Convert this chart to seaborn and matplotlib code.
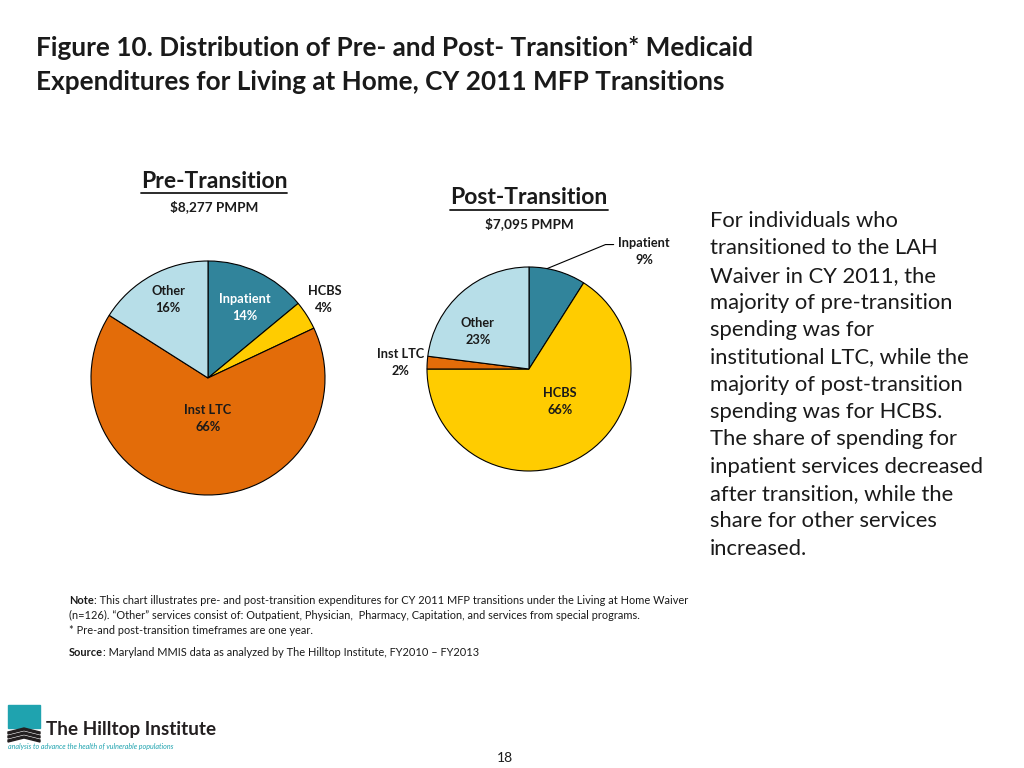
import numpy as np
import matplotlib
matplotlib.use('Agg')
import matplotlib.pyplot as plt
import seaborn as sns
from matplotlib.patches import Rectangle, Polygon
from matplotlib.lines import Line2D

# datos del grafico
categorias = ['Inpatient', 'HCBS', 'Inst LTC', 'Other']
pre_pct = [14, 4, 66, 16]
post_pct = [9, 66, 2, 23]
pre_titulo = 'Pre-Transition'
post_titulo = 'Post-Transition'
pre_total = '$8,277 PMPM'
post_total = '$7,095 PMPM'
colores = ['#31849B', '#FFCC00', '#E36C09', '#B7DEE8']

titulo = ['Figure 10. Distribution of Pre- and Post- Transition* Medicaid',
          'Expenditures for Living at Home, CY 2011 MFP Transitions']

texto_derecha = ['For individuals who', 'transitioned to the LAH', 'Waiver in CY 2011, the',
                 'majority of pre-transition', 'spending was for', 'institutional LTC, while the',
                 'majority of post-transition', 'spending was for HCBS.', 'The share of spending for',
                 'inpatient services decreased', 'after transition, while the',
                 'share for other services', 'increased.']

sns.set_theme(style='white')
plt.rcParams['font.family'] = ['Lato', 'DejaVu Sans']

W, H = 1024, 768
fig = plt.figure(figsize=(W / 100, H / 100), dpi=100)
fig.patch.set_facecolor('white')
ren = fig.canvas.get_renderer()


def fx(x):
    return x / W


def fy(y):
    return 1 - y / H


def caja(cx, cy, r):
    return [fx(cx - r), fy(cy + r), 2 * r / W, 2 * r / H]


def titulo_torta(cx, y, txt, sub, y_sub):
    t = fig.text(fx(cx), fy(y), txt, ha='center', va='center', fontsize=16.5,
                 fontweight='bold', color='#1a1a1a')
    bb = t.get_window_extent(ren)
    yl = bb.y0 - 1
    fig.add_artist(Line2D([bb.x0 / W, bb.x1 / W], [yl / H, yl / H], color='#1a1a1a', lw=1.3))
    fig.text(fx(cx), fy(y_sub), sub, ha='center', va='center', fontsize=9.8,
             fontweight='bold', color='#1a1a1a')


def dibujar_torta(cx, cy, r, valores, ubic, col_txt):
    ax = fig.add_axes(caja(cx, cy, r))
    wedges, _ = ax.pie(valores, colors=colores, startangle=90, counterclock=False,
                       wedgeprops=dict(edgecolor='black', linewidth=0.8))
    ax.set_xlim(-1, 1)
    ax.set_ylim(-1, 1)
    ax.axis('off')
    for w, v, cat, (ang, dist), c in zip(wedges, valores, categorias, ubic, col_txt):
        if ang is None:
            ang = (w.theta1 + w.theta2) / 2
        a = np.deg2rad(ang)
        ax.text(dist * np.cos(a), dist * np.sin(a), f'{cat}\n{v}%', ha='center', va='center',
                fontsize=9.2, fontweight='bold', color=c, linespacing=1.5)
    return ax, wedges


# titulo
for i, linea in enumerate(titulo):
    fig.text(fx(36), fy(48 + i * 34), linea, ha='left', va='center', fontsize=18.8,
             fontweight='bold', color='#1a1a1a')

# torta pre
titulo_torta(214, 181, pre_titulo, pre_total, 207)
dibujar_torta(208, 378, 117, pre_pct,
              [(62.5, 0.68), (34, 1.2), (-90, 0.35), (117, 0.75)],
              ['white', '#1a1a1a', '#1a1a1a', '#1a1a1a'])

# torta post
titulo_torta(529, 198, post_titulo, post_total, 224)
ax2, w2 = dibujar_torta(529, 369, 102, post_pct,
                        [(45.5, 1.61), (-46, 0.44), (177, 1.26), (144, 0.62)],
                        ['#1a1a1a'] * 4)
# linea guia inpatient
a = np.deg2rad((w2[0].theta1 + w2[0].theta2) / 2 + 6)
ax2.plot([np.cos(a), 0.75, 0.83], [np.sin(a), 1.22, 1.22], color='black', lw=0.8, clip_on=False)

# texto de la derecha
for i, linea in enumerate(texto_derecha):
    fig.text(fx(710), fy(221 + i * 27.3), linea, ha='left', va='center', fontsize=15.8,
             color='#1a1a1a')


# notas
def texto_mixto(x, y, negrita, resto, size=7.9):
    t = fig.text(fx(x), fy(y), negrita, ha='left', va='center', fontsize=size,
                 fontweight='bold', color='#1a1a1a')
    bb = t.get_window_extent(ren)
    fig.text(bb.x1 / W, fy(y), resto, ha='left', va='center', fontsize=size, color='#1a1a1a')


texto_mixto(69, 601, 'Note', ': This chart illustrates pre- and post-transition expenditures for '
            'CY 2011 MFP transitions under the Living at Home Waiver')
fig.text(fx(69), fy(615), '(n=126). \u201cOther\u201d services consist of: Outpatient, Physician,  '
         'Pharmacy, Capitation, and services from special programs.', ha='left', va='center',
         fontsize=7.9, color='#1a1a1a')
fig.text(fx(69), fy(631), '* Pre-and post-transition timeframes are one year.', ha='left',
         va='center', fontsize=7.9, color='#1a1a1a')
texto_mixto(69, 652, 'Source', ': Maryland MMIS data as analyzed by The Hilltop Institute, '
            'FY2010 \u2013 FY2013')

# logo
fig.add_artist(Rectangle((fx(8), fy(728)), 32 / W, 23 / H, color='#1FA3AF', transform=fig.transFigure))
for k in range(3):
    yy = 729 + k * 4
    fig.add_artist(Polygon([(fx(8), fy(yy + 3)), (fx(24), fy(yy - 1)), (fx(40), fy(yy + 3)),
                            (fx(40), fy(yy + 5)), (fx(24), fy(yy + 1)), (fx(8), fy(yy + 5))],
                           closed=True, color='#231F20', transform=fig.transFigure))
fig.text(fx(46), fy(730), 'The Hilltop Institute', ha='left', va='center', fontsize=13.6,
         fontweight='bold', color='#231F20')
fig.text(fx(8), fy(746), 'analysis to advance the health of vulnerable populations', ha='left',
         va='center', fontsize=5.1, style='italic', color='#1FA3AF')

fig.text(fx(505), fy(758), '18', ha='center', va='center', fontsize=10, color='#1a1a1a')

fig.savefig('out.png', dpi=100, facecolor='white')
